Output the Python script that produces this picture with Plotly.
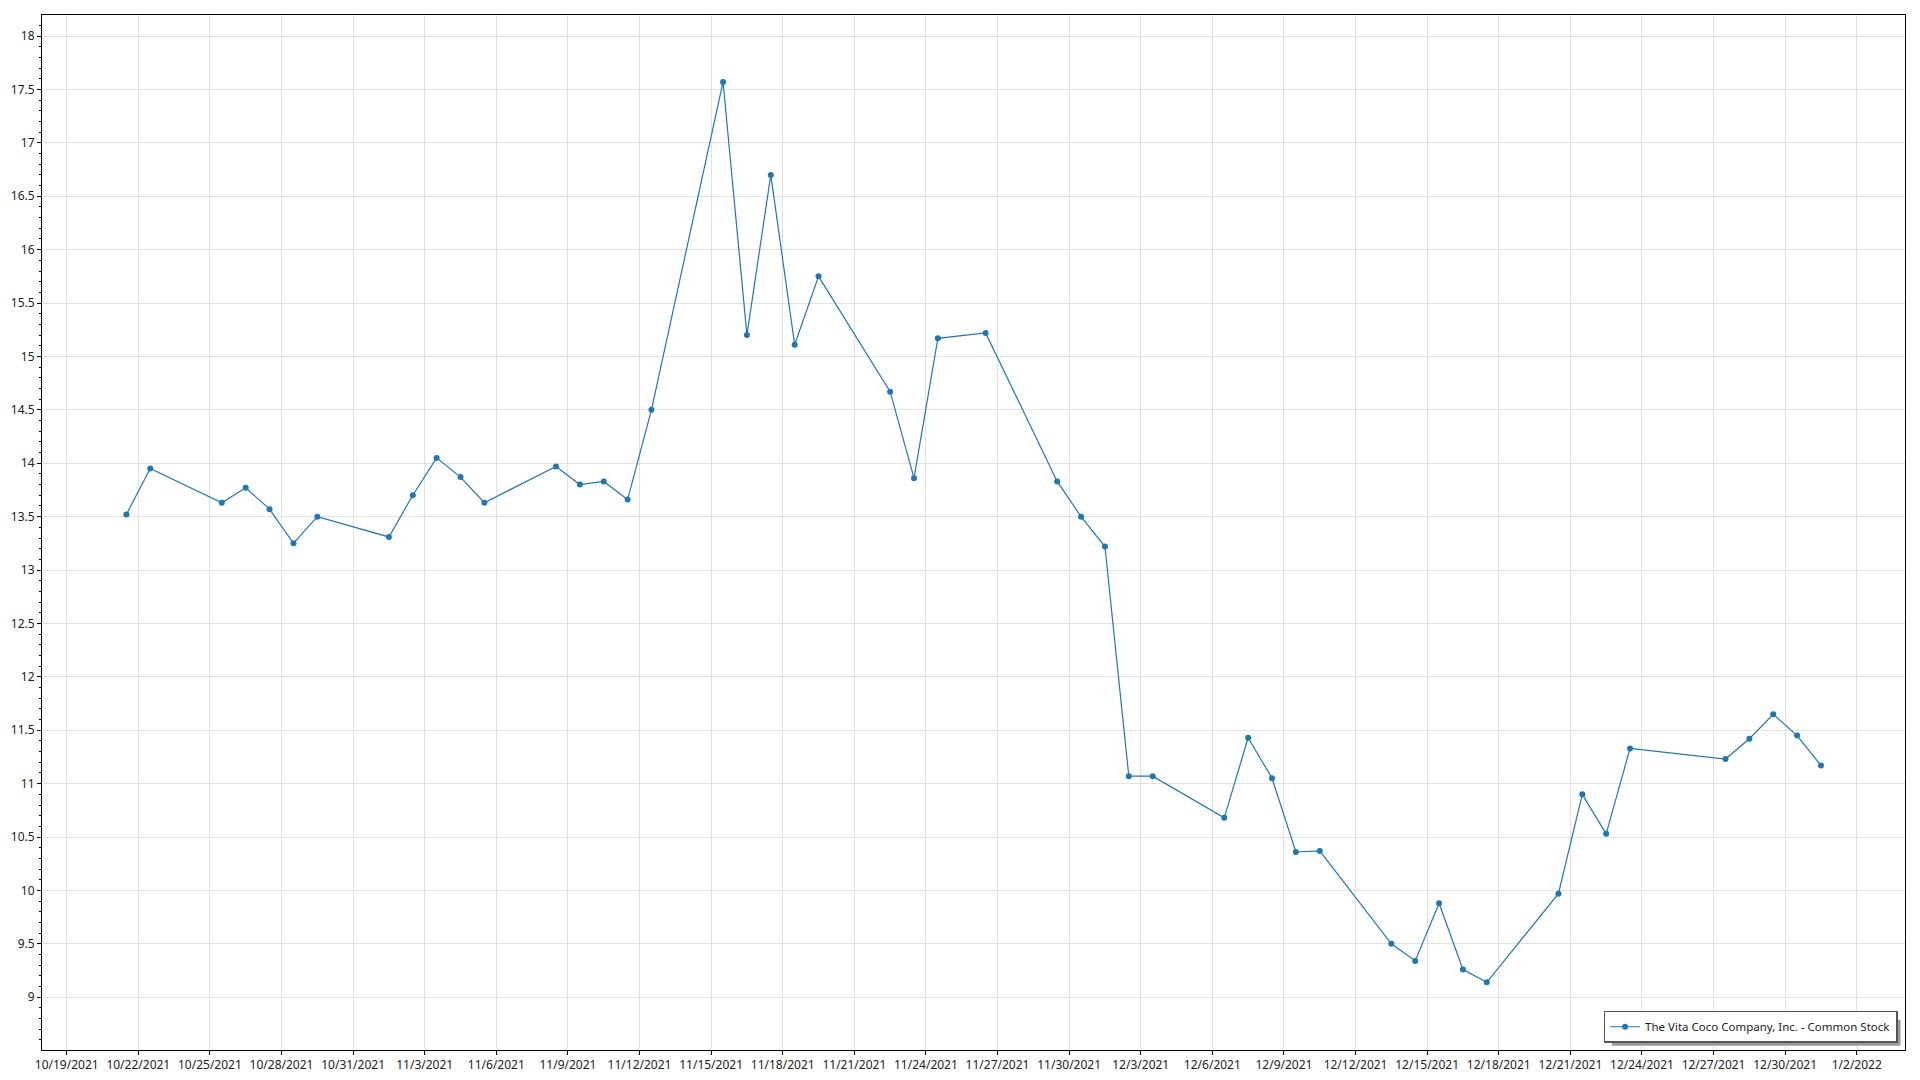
import plotly.graph_objects as go

dates = [
    "2021-10-21", "2021-10-22", "2021-10-25", "2021-10-26", "2021-10-27", "2021-10-28", "2021-10-29",
    "2021-11-01", "2021-11-02", "2021-11-03", "2021-11-04", "2021-11-05",
    "2021-11-08", "2021-11-09", "2021-11-10", "2021-11-11", "2021-11-12",
    "2021-11-15", "2021-11-16", "2021-11-17", "2021-11-18", "2021-11-19",
    "2021-11-22", "2021-11-23", "2021-11-24", "2021-11-26",
    "2021-11-29", "2021-11-30", "2021-12-01", "2021-12-02", "2021-12-03",
    "2021-12-06", "2021-12-07", "2021-12-08", "2021-12-09", "2021-12-10",
    "2021-12-13", "2021-12-14", "2021-12-15", "2021-12-16", "2021-12-17",
    "2021-12-20", "2021-12-21", "2021-12-22", "2021-12-23",
    "2021-12-27", "2021-12-28", "2021-12-29", "2021-12-30", "2021-12-31",
]
prices = [
    13.52, 13.95, 13.63, 13.77, 13.57, 13.25, 13.50,
    13.31, 13.70, 14.05, 13.87, 13.63,
    13.97, 13.80, 13.83, 13.66, 14.50,
    17.57, 15.20, 16.70, 15.11, 15.75,
    14.67, 13.86, 15.17, 15.22,
    13.83, 13.50, 13.22, 11.07, 11.07,
    10.68, 11.43, 11.05, 10.36, 10.37,
    9.50, 9.34, 9.88, 9.26, 9.14,
    9.97, 10.90, 10.53, 11.33,
    11.23, 11.42, 11.65, 11.45, 11.17,
]
series_name = "The Vita Coco Company, Inc. - Common Stock"

# timestamps are plotted at mid-day, as in the source chart
x_vals = [d + " 12:00" for d in dates]

fig = go.Figure()
fig.add_trace(go.Scatter(
    x=x_vals, y=prices, mode="lines+markers", name=series_name,
    line=dict(color="#1f77b4", width=1.2),
    marker=dict(color="#1f77b4", size=6, symbol="circle"),
))

font = dict(family="Noto Sans, Open Sans, DejaVu Sans, sans-serif", size=12, color="#222222")

# legend drop shadow
fig.add_shape(type="rect", xref="paper", yref="paper",
              x0=0.8426, x1=0.9976, y0=0.0041, y1=0.0293,
              fillcolor="#9a9a9a", line=dict(width=0), layer="above")

fig.update_layout(
    width=1904, height=1064,
    margin=dict(l=34, r=7, t=7, b=22, pad=0),
    paper_bgcolor="white", plot_bgcolor="white",
    font=font,
    showlegend=True,
    legend=dict(
        x=0.9960, y=0.0070, xanchor="right", yanchor="bottom",
        bgcolor="white", bordercolor="#555555", borderwidth=1.5,
        font=dict(family="Noto Sans, Open Sans, sans-serif", size=11.5, color="#222222"),
        itemwidth=30, tracegroupgap=0,
    ),
    xaxis=dict(
        type="date", automargin=False,
        range=["2021-10-17 23:10", "2022-01-04 00:30"],
        tick0="2021-10-19", dtick=3 * 24 * 3600 * 1000,
        tickformat="%-m/%-d/%Y",
        showgrid=True, gridcolor="#e2e2e2", gridwidth=1,
        showline=True, linecolor="black", linewidth=1, mirror=True,
        ticks="outside", ticklen=4, tickcolor="black",
        zeroline=False,
    ),
    yaxis=dict(
        automargin=False,
        range=[8.506, 18.197],
        tick0=0, dtick=0.5,
        showgrid=True, gridcolor="#e2e2e2", gridwidth=1,
        showline=True, linecolor="black", linewidth=1, mirror=True,
        ticks="outside", ticklen=4, tickcolor="black",
        minor=dict(dtick=0.1, ticks="outside", ticklen=2, tickcolor="black", showgrid=False),
        zeroline=False,
    ),
)

fig.write_html("out.html")
